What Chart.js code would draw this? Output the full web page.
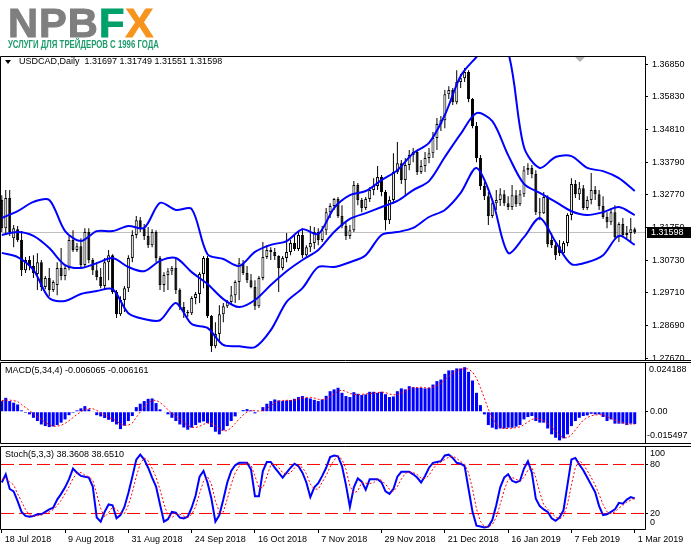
<!DOCTYPE html>
<html>
<head>
<meta charset="utf-8">
<script src="https://cdn.jsdelivr.net/npm/chart.js@4.4.1/dist/chart.umd.min.js"></script>
<style>
  html, body { margin: 0; padding: 0; background: #fff; }
  #wrap { position: relative; width: 691px; height: 549px; overflow: hidden; }
  canvas { position: absolute; left: 0; }
  #cPrice { top: 0; }
  #cMacd { top: 361px; }
  #cStoch { top: 444px; }
  #logo { position: absolute; left: 8px; top: 0; z-index: 2; white-space: nowrap; }
  #logo .big { position: absolute; left: 0; top: 3px; font: bold 40px "Liberation Sans", Arial, sans-serif; line-height: 40px; letter-spacing: 1px; transform: scaleX(1.04); transform-origin: left top; }
  #logo .big .g { color: #7f7f7f; -webkit-text-stroke: 1px #7f7f7f; }
  #logo .big .f { color: #00a06a; -webkit-text-stroke: 1px #00a06a; }
  #logo .big .x { color: #f7941d; -webkit-text-stroke: 1px #f7941d; }
  #logo .sub { position: absolute; left: 0; top: 40px; font: bold 10px "Liberation Sans", Arial, sans-serif; line-height: 10px; color: #1f9c6e; transform: scaleX(0.78); transform-origin: left top; }
</style>
</head>
<body>
<div id="wrap">
  <div id="logo">
    <div class="big"><span class="g">NPB</span><span class="f">F</span><span class="x">X</span></div>
    <div class="sub">УСЛУГИ ДЛЯ ТРЕЙДЕРОВ С 1996 ГОДА</div>
  </div>
  <canvas id="cPrice" width="691" height="361"></canvas>
  <canvas id="cMacd" width="691" height="83"></canvas>
  <canvas id="cStoch" width="691" height="105"></canvas>
</div>
<script>
// USDCAD daily, 18 Jul 2018 .. 1 Mar 2019
const open = [
  1.3261,1.3173,1.3267,1.3142,1.3170,1.3136,1.3042,1.3074,1.3055,1.3030,
  1.3067,1.2990,1.3018,1.2980,1.2996,1.3049,1.3024,1.3049,1.3136,1.3105,
  1.3117,1.3058,1.3161,1.3074,1.3042,1.3021,1.2993,1.3067,1.3089,1.2974,
  1.2905,1.2949,1.2986,1.3080,1.3152,1.3198,1.3173,1.3149,1.3120,1.3161,
  1.3080,1.2996,1.3027,1.3039,1.3049,1.2980,1.2927,1.2912,1.2908,1.2955,
  1.2968,1.3030,1.3080,1.2899,1.2805,1.2843,1.2905,1.2930,1.2943,1.2964,
  1.3005,1.3064,1.3033,1.3011,1.2990,1.2930,1.3018,1.3083,1.3105,1.3099,
  1.3086,1.3049,1.3080,1.3099,1.3127,1.3108,1.3152,1.3089,1.3114,1.3127,
  1.3161,1.3136,1.3167,1.3223,1.3242,1.3264,1.3211,1.3180,1.3149,1.3167,
  1.3308,1.3261,1.3236,1.3264,1.3292,1.3305,1.3333,1.3286,1.3198,1.3261,
  1.3348,1.3376,1.3323,1.3370,1.3401,1.3411,1.3348,1.3367,1.3392,1.3407,
  1.3454,1.3498,1.3510,1.3591,1.3604,1.3566,1.3629,1.3641,1.3660,1.3576,
  1.3492,1.3392,1.3305,1.3273,1.3211,1.3251,1.3261,1.3279,1.3251,1.3239,
  1.3276,1.3248,1.3279,1.3354,1.3361,1.3342,1.3223,1.3220,1.3270,1.3136,
  1.3120,1.3117,1.3095,1.3127,1.3214,1.3311,1.3279,1.3298,1.3236,1.3261,
  1.3292,1.3279,1.3242,1.3208,1.3192,1.3223,1.3145,1.3186,1.3152,1.3158,
  1.31697
];
const high = [
  1.3276,1.3292,1.3292,1.3183,1.3180,1.3164,1.3083,1.3086,1.3089,1.3095,
  1.3074,1.3024,1.3049,1.3011,1.3067,1.3111,1.3055,1.3149,1.3167,1.3127,
  1.3142,1.3173,1.3173,1.3080,1.3067,1.3049,1.3080,1.3105,1.3092,1.2980,
  1.2961,1.2993,1.3089,1.3167,1.3211,1.3208,1.3186,1.3177,1.3170,1.3167,
  1.3086,1.3036,1.3049,1.3055,1.3080,1.2986,1.2943,1.2918,1.2961,1.2974,
  1.3036,1.3086,1.3086,1.2902,1.2880,1.2933,1.2940,1.2949,1.2993,1.3011,
  1.3080,1.3074,1.3055,1.3030,1.3011,1.3024,1.3130,1.3120,1.3114,1.3111,
  1.3089,1.3086,1.3158,1.3136,1.3155,1.3161,1.3173,1.3120,1.3180,1.3177,
  1.3173,1.3180,1.3236,1.3251,1.3267,1.3270,1.3245,1.3192,1.3183,1.3320,
  1.3314,1.3267,1.3270,1.3301,1.3329,1.3367,1.3339,1.3292,1.3273,1.3407,
  1.3442,1.3386,1.3392,1.3417,1.3423,1.3417,1.3386,1.3411,1.3423,1.3473,
  1.3517,1.3523,1.3604,1.3616,1.3610,1.3666,1.3654,1.3673,1.3666,1.3579,
  1.3504,1.3401,1.3317,1.3286,1.3261,1.3292,1.3298,1.3292,1.3273,1.3308,
  1.3292,1.3292,1.3367,1.3376,1.3370,1.3354,1.3267,1.3286,1.3276,1.3158,
  1.3130,1.3136,1.3133,1.3220,1.3329,1.3323,1.3317,1.3308,1.3273,1.3345,
  1.3305,1.3292,1.3273,1.3223,1.3236,1.3245,1.3192,1.3205,1.3180,1.3205,
  1.31749
];
const low = [
  1.3161,1.3152,1.3149,1.3114,1.3130,1.3024,1.3033,1.3042,1.3018,1.2980,
  1.2977,1.2983,1.2961,1.2974,1.2964,1.3011,1.3011,1.3042,1.3099,1.3099,
  1.3049,1.3052,1.3064,1.3027,1.3011,1.2986,1.2980,1.3011,1.2968,1.2893,
  1.2899,1.2912,1.2974,1.3067,1.3142,1.3161,1.3136,1.3111,1.3114,1.3067,
  1.2980,1.2974,1.2980,1.3027,1.2968,1.2918,1.2893,1.2896,1.2902,1.2936,
  1.2940,1.2986,1.2893,1.2787,1.2799,1.2818,1.2880,1.2924,1.2936,1.2940,
  1.2949,1.3027,1.3002,1.2986,1.2918,1.2924,1.3011,1.3077,1.3074,1.3074,
  1.2974,1.3042,1.3067,1.3089,1.3102,1.3102,1.3080,1.3080,1.3099,1.3108,
  1.3120,1.3130,1.3152,1.3205,1.3230,1.3205,1.3173,1.3136,1.3139,1.3161,
  1.3245,1.3223,1.3230,1.3255,1.3276,1.3292,1.3273,1.3167,1.3186,1.3251,
  1.3342,1.3311,1.3273,1.3354,1.3379,1.3339,1.3342,1.3348,1.3376,1.3392,
  1.3417,1.3476,1.3485,1.3576,1.3557,1.3560,1.3610,1.3629,1.3566,1.3485,
  1.3379,1.3292,1.3261,1.3183,1.3205,1.3230,1.3242,1.3242,1.3230,1.3230,
  1.3239,1.3242,1.3270,1.3339,1.3329,1.3214,1.3198,1.3217,1.3114,1.3111,
  1.3074,1.3086,1.3089,1.3117,1.3198,1.3267,1.3261,1.3230,1.3230,1.3248,
  1.3261,1.3230,1.3202,1.3173,1.3183,1.3136,1.3130,1.3145,1.3142,1.3127,
  1.31551
];
const close = [
  1.3173,1.3267,1.3161,1.3173,1.3136,1.3042,1.3074,1.3055,1.3033,1.3067,
  1.2990,1.3018,1.2980,1.3005,1.3049,1.3024,1.3049,1.3136,1.3105,1.3117,
  1.3058,1.3161,1.3074,1.3042,1.3021,1.2993,1.3067,1.3089,1.2974,1.2905,
  1.2949,1.2986,1.3080,1.3152,1.3198,1.3173,1.3149,1.3120,1.3161,1.3080,
  1.2996,1.3027,1.3039,1.3049,1.2980,1.2927,1.2912,1.2908,1.2955,1.2968,
  1.3030,1.3080,1.2899,1.2805,1.2843,1.2905,1.2930,1.2943,1.2964,1.3005,
  1.3064,1.3033,1.3011,1.2990,1.2930,1.3018,1.3083,1.3105,1.3099,1.3086,
  1.3049,1.3080,1.3099,1.3127,1.3108,1.3152,1.3089,1.3114,1.3127,1.3161,
  1.3136,1.3167,1.3223,1.3242,1.3264,1.3211,1.3180,1.3149,1.3167,1.3308,
  1.3261,1.3236,1.3264,1.3292,1.3305,1.3333,1.3286,1.3198,1.3261,1.3348,
  1.3376,1.3323,1.3370,1.3401,1.3411,1.3348,1.3367,1.3392,1.3407,1.3454,
  1.3498,1.3510,1.3591,1.3604,1.3566,1.3629,1.3641,1.3660,1.3576,1.3492,
  1.3392,1.3305,1.3273,1.3211,1.3251,1.3261,1.3279,1.3251,1.3239,1.3276,
  1.3248,1.3279,1.3354,1.3361,1.3342,1.3223,1.3220,1.3270,1.3124,1.3120,
  1.3089,1.3095,1.3127,1.3214,1.3311,1.3279,1.3298,1.3236,1.3261,1.3292,
  1.3279,1.3242,1.3208,1.3192,1.3223,1.3145,1.3186,1.3152,1.3158,1.3170,
  1.31598
];

// Bollinger bands, read every 4th bar
const bandBars = [0,4,8,12,16,20,24,28,32,36,40,44,48,52,56,60,64,68,72,76,80,
                  84,88,92,96,100,104,108,112,116,120,124,128,132,136,140,144,148,152,156,160];
const bandUpper = [1.3205,1.3226,1.3255,1.3261,1.3164,1.3133,1.3164,1.3164,1.3180,1.3174,
  1.3252,1.3230,1.3233,1.3092,1.3077,1.3055,1.3099,1.3121,1.3133,1.3170,
  1.3155,1.3236,1.3276,1.3289,1.3323,1.3354,1.3407,1.3439,1.3526,1.3648,
  1.3707,1.3760,1.3722,1.3426,1.3361,1.3395,1.3398,1.3361,1.3351,1.3329,1.3289];
const bandMiddle = [1.3152,1.3161,1.3149,1.3111,1.3058,1.3049,1.3064,1.3080,1.3052,1.3039,
  1.3071,1.3080,1.3036,1.2999,1.2952,1.2927,1.2949,1.2996,1.3039,1.3074,
  1.3105,1.3161,1.3202,1.3220,1.3239,1.3258,1.3292,1.3320,1.3395,1.3467,
  1.3532,1.3507,1.3401,1.3311,1.3283,1.3255,1.3226,1.3214,1.3223,1.3239,1.3214];
const bandLower = [1.3096,1.3083,1.3043,1.2955,1.2946,1.2968,1.2977,1.2983,1.2908,1.2890,
  1.2886,1.2940,1.2874,1.2862,1.2809,1.2805,1.2802,1.2855,1.2943,1.2986,
  1.3052,1.3052,1.3067,1.3089,1.3152,1.3161,1.3174,1.3208,1.3230,1.3283,
  1.3361,1.3261,1.3096,1.3145,1.3205,1.3130,1.3061,1.3067,1.3089,1.3149,1.3121];

// MACD(5,34,4)
const macdHist = [
  .0053,.0069,.0053,.0045,.0036,.0007,-.0005,-.0013,-.0030,-.0046,
  -.0063,-.0071,-.0076,-.0073,-.0066,-.0054,-.0038,-.0017,-.0005,.0007,
  .0017,.0028,.0012,.0003,-.0017,-.0023,-.0031,-.0040,-.0050,-.0063,
  -.0086,-.0069,-.0046,-.0021,.0023,.0040,.0053,.0064,.0066,.0043,
  .0012,-.0002,-.0013,-.0030,-.0046,-.0063,-.0078,-.0089,-.0079,-.0066,
  -.0054,-.0048,-.0056,-.0076,-.0099,-.0112,-.0092,-.0071,-.0046,-.0023,
  -.0002,.0008,.0013,.0007,-.0008,.0003,.0023,.0040,.0053,.0061,
  .0056,.0053,.0056,.0058,.0064,.0073,.0078,.0069,.0066,.0059,
  .0053,.0061,.0079,.0102,.0111,.0119,.0094,.0078,.0073,.0097,
  .0089,.0083,.0086,.0099,.0099,.0094,.0099,.0087,.0073,.0076,
  .0102,.0116,.0111,.0127,.0122,.0119,.0119,.0116,.0119,.0135,
  .0152,.0160,.0188,.0205,.0206,.0215,.0215,.0221,.0198,.0155,
  .0094,.0033,-.0013,-.0066,-.0079,-.0087,-.0083,-.0083,-.0079,-.0079,
  -.0074,-.0066,-.0038,-.0026,-.0021,-.0046,-.0054,-.0054,-.0083,-.0112,
  -.0129,-.0142,-.0132,-.0112,-.0071,-.0046,-.0030,-.0021,-.0018,-.0010,
  -.0013,-.0013,-.0026,-.0046,-.0038,-.0059,-.0059,-.0059,-.0066,-.0059,
  -.006065
];
const macdSignal = [
  .0055,.0058,.0058,.0055,.0051,.0035,.0021,.0006,-.0010,-.0024,
  -.0038,-.0053,-.0064,-.0071,-.0072,-.0067,-.0058,-.0044,-.0029,-.0013,
  .0000,.0012,.0016,.0015,.0007,-.0006,-.0017,-.0028,-.0036,-.0046,
  -.0060,-.0067,-.0066,-.0056,-.0028,-.0001,.0024,.0045,.0056,.0057,
  .0046,.0030,.0010,-.0008,-.0023,-.0038,-.0054,-.0069,-.0077,-.0078,
  -.0072,-.0062,-.0056,-.0059,-.0070,-.0086,-.0095,-.0094,-.0080,-.0058,
  -.0036,-.0016,-.0001,.0007,.0005,.0004,.0006,.0015,.0030,.0044,
  .0053,.0056,.0057,.0056,.0058,.0063,.0068,.0071,.0072,.0068,
  .0062,.0060,.0063,.0074,.0088,.0103,.0107,.0101,.0091,.0086,
  .0084,.0086,.0089,.0089,.0092,.0095,.0098,.0095,.0088,.0084,
  .0085,.0092,.0101,.0114,.0119,.0120,.0122,.0119,.0118,.0122,
  .0131,.0142,.0159,.0176,.0190,.0204,.0210,.0214,.0212,.0197,
  .0167,.0120,.0067,.0012,-.0031,-.0061,-.0079,-.0083,-.0083,-.0081,
  -.0079,-.0075,-.0064,-.0051,-.0038,-.0033,-.0037,-.0044,-.0059,-.0076,
  -.0095,-.0117,-.0129,-.0129,-.0114,-.0090,-.0065,-.0042,-.0029,-.0020,
  -.0016,-.0014,-.0016,-.0025,-.0031,-.0042,-.0051,-.0054,-.0061,-.0061,
  -.006161
];
const macdMax = 0.024188, macdMin = -0.015497;

// Stochastic(5,3,3)
const stochK = [
  58,68,50,47,35,22,17,16,17,19, 19,22,25,27,37,44,52,62,75,70,
  66,65,64,53,15,10,22,31,30,14, 18,28,45,65,86,92,86,76,64,53,
  31,10,13,22,21,15,14,16,27,42, 65,72,58,38,10,18,37,58,72,79,
  82,82,82,74,41,41,72,83,83,76, 70,64,70,76,81,78,70,58,40,52,
  57,66,76,89,91,90,78,55,28,52, 63,59,49,62,62,62,58,47,44,50,
  65,71,71,71,68,64,58,66,76,82, 83,84,91,92,88,82,81,78,50,22,
  5,4,3,4,12,30,52,64,68,60, 58,60,75,84,70,38,29,25,22,14,
  11,15,24,55,86,88,80,73,64,55, 46,29,18,19,22,25,33,32,37,40,
  38.3608
];
const stochD = [
  62,63,58.7,55,44,34.7,24.7,18.3,16.7,17.3, 18.3,20,22,24.7,29.7,36,44.3,52.7,63,69,
  70.3,67,65,60.7,44,26,15.7,21,27.7,25, 20.7,20,30.3,46,65.3,81,88,84.7,75.3,64.3,
  49.3,31.3,18,15,18.7,19.3,16.7,15,19,28.3, 44.7,59.7,65,56,35.3,22,21.7,37.7,55.7,69.7,
  77.7,81,82,79.3,65.7,52,51.3,65.3,79.3,80.7, 76.3,70,68,70,75.7,78.3,76.3,68.7,56,50,
  49.7,58.3,66.3,77,85.3,90,86.3,74.3,53.7,45, 47.7,58,57,56.7,57.7,62,60.7,55.7,49.7,47,
  53,62,69,71,70,67.7,63.3,62.7,66.7,74.7, 80.3,83,86,89,90.3,87.3,83.7,80.3,69.7,50,
  25.7,10.3,4,3.7,6.3,15.3,31.3,48.7,61.3,64, 62,59.3,64.3,73,76.3,64,45.7,30.7,25.3,20.3,
  15.7,13.3,16.7,31.3,55,76.3,84.7,80.3,72.3,64, 55,43.3,31,22,19.7,22,26.7,30,34,36.3,
  38.6510
];
const stochLevels = [20, 80];

const priceTicks = [1.27670,1.28690,1.29710,1.30730,1.31750,1.32770,1.33790,1.34810,1.35830,1.36850];
const dateBars = [0,16,32,48,64,80,96,112,128,144,160];
const dateLabels = ['18 Jul 2018','9 Aug 2018','31 Aug 2018','24 Sep 2018','16 Oct 2018',
  '7 Nov 2018','29 Nov 2018','21 Dec 2018','16 Jan 2019','7 Feb 2019','1 Mar 2019'];

const X_MIN = -0.2, X_MAX = 162.6;
const W = 691;
const FONT = '"Liberation Sans", Arial, sans-serif';

Chart.defaults.font.family = FONT;
Chart.defaults.font.size = 9;
Chart.defaults.color = '#000';
Chart.defaults.animation = false;

const bars = close.map((_, i) => i);
const last = close.length - 1;
const pts = (xs, ys) => xs.map((x, i) => ({x, y: ys[i]}));

function fitRight(s) { s.width = 46; s.paddingTop = 0; s.paddingBottom = 0; }

function hiddenX() {
  return { type: 'linear', min: X_MIN, max: X_MAX, offset: false, display: false };
}

function drawFrame(ctx, a, fullTop, fullBottom) {
  const l = a.left - 0.5, r = a.right + 0.5, t = a.top - 0.5, b = a.bottom + 0.5;
  ctx.save();
  ctx.strokeStyle = '#000';
  ctx.lineWidth = 1;
  ctx.beginPath();
  ctx.moveTo(l, t); ctx.lineTo(l, b);
  ctx.moveTo(r, t); ctx.lineTo(r, b);
  ctx.moveTo(l, t); ctx.lineTo(fullTop ? W : r, t);
  ctx.moveTo(l, b); ctx.lineTo(fullBottom ? W : r, b);
  ctx.stroke();
  ctx.restore();
}

function text(ctx, s, x, y, color) {
  ctx.save();
  ctx.font = '9px ' + FONT;
  ctx.fillStyle = color || '#000';
  ctx.textBaseline = 'middle';
  ctx.fillText(s, x, y);
  ctx.restore();
}

const baseOpts = {
  responsive: false,
  events: [],
  plugins: { legend: { display: false }, tooltip: { enabled: false } }
};

// ---------- price panel ----------
const priceDeco = {
  id: 'priceDeco',
  beforeDatasetsDraw(chart) {
    const {ctx, chartArea: a, scales: {y}} = chart;
    const py = Math.round(y.getPixelForValue(close[last])) + 0.5;
    ctx.save();
    ctx.strokeStyle = '#c0c0c0';
    ctx.lineWidth = 1;
    ctx.beginPath(); ctx.moveTo(a.left, py); ctx.lineTo(a.right, py); ctx.stroke();
    ctx.restore();
  },
  afterDraw(chart) {
    const {ctx, chartArea: a, scales: {y}} = chart;
    drawFrame(ctx, a, false, true);
    // header
    ctx.save();
    ctx.fillStyle = '#000';
    ctx.beginPath(); ctx.moveTo(5, 60); ctx.lineTo(11, 60); ctx.lineTo(8, 64); ctx.closePath(); ctx.fill();
    ctx.restore();
    const ohlc = [open[last], high[last], low[last], close[last]].map(v => v.toFixed(5)).join(' ');
    text(ctx, 'USDCAD,Daily  ' + ohlc, 19, 62);
    // chart shift marker
    ctx.save();
    ctx.fillStyle = '#b4b4b4';
    ctx.beginPath(); ctx.moveTo(575, 57); ctx.lineTo(585, 57); ctx.lineTo(580, 62); ctx.closePath(); ctx.fill();
    ctx.restore();
    // last price box
    const py = Math.round(y.getPixelForValue(close[last]));
    ctx.save();
    ctx.fillStyle = '#000';
    ctx.fillRect(a.right + 2, py - 5, W - a.right - 2, 11);
    ctx.restore();
    text(ctx, close[last].toFixed(5), a.right + 6, py + 0.5, '#fff');
  }
};

new Chart(document.getElementById('cPrice'), {
  type: 'line',
  data: {
    datasets: [
      { type: 'bar', data: bars.map(i => ({x: i, y: [low[i], high[i]]})),
        backgroundColor: '#000', barThickness: 1, grouped: false, inflateAmount: 0, order: 3 },
      { type: 'bar', data: bars.map(i => ({x: i, y: [open[i], close[i]]})),
        backgroundColor: bars.map(i => close[i] >= open[i] ? '#ffffff' : '#000000'),
        borderColor: '#000', borderWidth: 1, borderSkipped: false, barThickness: 3,
        grouped: false, minBarLength: 1, inflateAmount: 0, order: 2 },
      { data: pts(bandBars, bandUpper), borderColor: '#0000ff', borderWidth: 2, pointRadius: 0, tension: 0.3, order: 1 },
      { data: pts(bandBars, bandMiddle), borderColor: '#0000ff', borderWidth: 2, pointRadius: 0, tension: 0.3, order: 1 },
      { data: pts(bandBars, bandLower), borderColor: '#0000ff', borderWidth: 2, pointRadius: 0, tension: 0.3, order: 1 }
    ]
  },
  options: {
    ...baseOpts,
    layout: { padding: { left: 1, top: 57, right: 0, bottom: 1 } },
    scales: {
      x: hiddenX(),
      y: {
        position: 'right', min: 1.2762, max: 1.3707,
        afterBuildTicks: s => { s.ticks = priceTicks.map(v => ({value: v})); },
        afterFit: fitRight,
        ticks: { padding: 4, callback: v => Number(v).toFixed(5) },
        grid: { drawOnChartArea: false, tickLength: 3, color: '#000' },
        border: { display: false }
      }
    }
  },
  plugins: [priceDeco]
});

// ---------- MACD panel ----------
const macdDeco = {
  id: 'macdDeco',
  afterDraw(chart) {
    const {ctx, chartArea: a} = chart;
    drawFrame(ctx, a, true, true);
    text(ctx, 'MACD(5,34,4) ' + macdHist[last].toFixed(6) + ' ' + macdSignal[last].toFixed(6), 5, a.top + 8);
    text(ctx, macdMax.toFixed(6), a.right + 4, a.top + 7);
    text(ctx, macdMin.toFixed(6), a.right + 2, a.bottom - 7);
  }
};

new Chart(document.getElementById('cMacd'), {
  type: 'line',
  data: {
    datasets: [
      { type: 'bar', data: pts(bars, macdHist), backgroundColor: '#0000ff',
        barThickness: 3, grouped: false, inflateAmount: 0, order: 2 },
      { data: pts(bars, macdSignal), borderColor: '#ff0000', borderWidth: 1,
        borderDash: [2, 2], pointRadius: 0, order: 1 }
    ]
  },
  options: {
    ...baseOpts,
    layout: { padding: { left: 1, top: 2, right: 0, bottom: 1 } },
    scales: {
      x: hiddenX(),
      y: {
        position: 'right', min: macdMin, max: macdMax,
        afterBuildTicks: s => { s.ticks = [{value: 0}]; },
        afterFit: fitRight,
        ticks: { padding: 2, callback: () => '0.00' },
        grid: { drawOnChartArea: false, tickLength: 3, color: '#000' },
        border: { display: false }
      }
    }
  },
  plugins: [macdDeco]
});

// ---------- Stochastic panel ----------
const stochDeco = {
  id: 'stochDeco',
  afterDraw(chart) {
    const {ctx, chartArea: a} = chart;
    drawFrame(ctx, a, true, false);
    text(ctx, 'Stoch(5,3,3) ' + stochK[last].toFixed(4) + ' ' + stochD[last].toFixed(4), 5, a.top + 8);
    text(ctx, '100', a.right + 5, a.top + 7);
    text(ctx, '0', a.right + 5, a.bottom - 6);
  }
};

new Chart(document.getElementById('cStoch'), {
  type: 'line',
  data: {
    datasets: [
      ...stochLevels.map(v => ({
        data: [{x: X_MIN, y: v}, {x: X_MAX, y: v}], borderColor: '#ff0000', borderWidth: 1,
        borderDash: [13, 5], pointRadius: 0, order: 3
      })),
      { data: pts(bars, stochK), borderColor: '#0000ff', borderWidth: 2, pointRadius: 0, order: 2 },
      { data: pts(bars, stochD), borderColor: '#ff0000', borderWidth: 1, borderDash: [2, 2], pointRadius: 0, order: 1 }
    ]
  },
  options: {
    ...baseOpts,
    layout: { padding: { left: 1, top: 3, right: 0, bottom: 0 } },
    scales: {
      x: {
        type: 'linear', min: X_MIN, max: X_MAX, offset: false, position: 'bottom',
        afterBuildTicks: s => { s.ticks = dateBars.map(v => ({value: v})); },
        afterFit: s => { s.height = 20; s.paddingLeft = 0; s.paddingRight = 0; },
        ticks: { autoSkip: false, maxRotation: 0, align: 'start', labelOffset: 3, padding: 1,
                 callback: (v, i) => dateLabels[i] },
        grid: { drawOnChartArea: false, tickLength: 4, color: '#000' },
        border: { display: false }
      },
      y: {
        position: 'right', min: 1, max: 101.4,
        afterBuildTicks: s => { s.ticks = stochLevels.map(v => ({value: v})); },
        afterFit: fitRight,
        ticks: { padding: 2 },
        grid: { drawOnChartArea: false, tickLength: 3, color: '#000' },
        border: { display: false }
      }
    }
  },
  plugins: [stochDeco]
});
</script>
</body>
</html>
